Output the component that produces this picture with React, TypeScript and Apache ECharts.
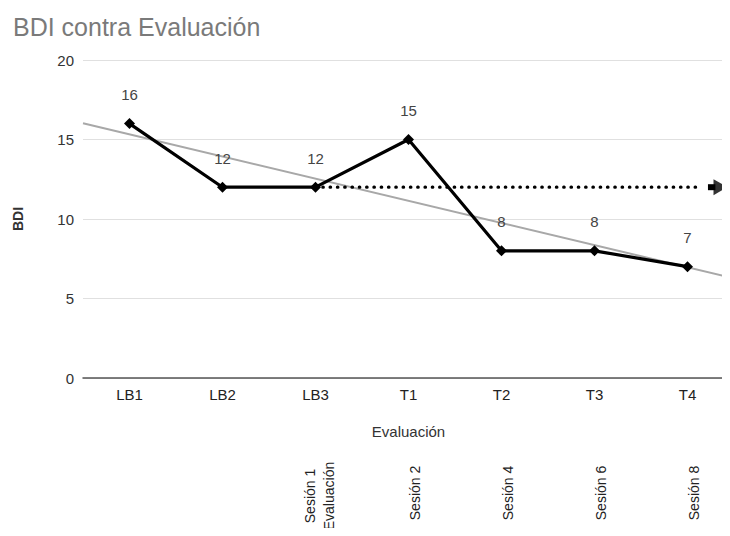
import React, { useEffect, useRef } from "react";
import * as echarts from "echarts";

const categories = ["LB1", "LB2", "LB3", "T1", "T2", "T3", "T4"];
const bdiValues = [16, 12, 12, 15, 8, 8, 7];
// session notes written under the chart (first line / second line for LB3)
const sessionLabels = ["", "", "", "Sesión 2", "Sesión 4", "Sesión 6", "Sesión 8"];
const sessionLine1 = ["", "", "Sesión 1", "", "", "", ""];
const sessionLine2 = ["", "", "Evaluación", "", "", "", ""];
const yTicks = { min: 0, max: 20, interval: 5 };
// reference level (dotted line from LB3 onward) and arrow annotation, in category-position units
const referenceLevel = 12;
const dottedStart = 3;
const dottedEnd = 7.16;
const arrowShaft = [7.22, 7.3];
const arrowHead = 7.355;

// least-squares trend line from the data
function trend() {
  const n = bdiValues.length;
  const xs = bdiValues.map((_, i) => i + 1);
  const mx = xs.reduce((a, b) => a + b, 0) / n;
  const my = bdiValues.reduce((a, b) => a + b, 0) / n;
  let sxy = 0, sxx = 0;
  xs.forEach((x, i) => { sxy += (x - mx) * (bdiValues[i] - my); sxx += (x - mx) ** 2; });
  const slope = sxy / sxx;
  const f = (x: number) => my + slope * (x - mx);
  return [[0.5, f(0.5)], [7.5, f(7.5)]];
}

export default function App() {
  const ref = useRef<HTMLDivElement>(null);
  useEffect(() => {
    if (!ref.current) return;
    const chart = echarts.init(ref.current, null, { renderer: "svg" });
    const font = "'Liberation Sans', Arial, sans-serif";
    const noteAxis = (gridIndex: number, data: string[], margin: number) => ({
      type: "category",
      gridIndex,
      data,
      axisLine: { show: false },
      axisTick: { show: false },
      splitLine: { show: false },
      axisLabel: {
        rotate: 90,
        interval: 0,
        align: "center",
        verticalAlign: "middle",
        fontSize: 14,
        color: "#222",
        margin,
        overflow: "none",
        fontFamily: font,
      },
    });
    const hiddenY = (gridIndex: number) => ({ type: "value", gridIndex, min: 0, max: 20, show: false });
    const g = (left: number) => ({ left, width: 651, top: 60, height: 318, outerBoundsMode: "none", containLabel: false });
    chart.setOption({
      animation: false,
      textStyle: { fontFamily: font },
      title: {
        text: "BDI contra Evaluación",
        left: 8,
        top: 9,
        textStyle: { fontSize: 25, color: "#7a7a7a", fontWeight: "normal", fontFamily: font },
      },
      grid: [g(83), g(89), g(77), g(96)],
      xAxis: [
        {
          type: "category",
          gridIndex: 0,
          data: categories,
          boundaryGap: true,
          name: "Evaluación",
          nameLocation: "middle",
          nameGap: 46,
          nameTextStyle: { fontSize: 15, color: "#333", fontFamily: font },
          axisLine: { lineStyle: { color: "#555", width: 1.5 } },
          axisTick: { show: false },
          axisLabel: { fontSize: 15, color: "#222", margin: 9, fontFamily: font },
        },
        {
          type: "value",
          gridIndex: 0,
          min: 0.5,
          max: 7.5,
          show: false,
        },
        noteAxis(1, sessionLabels, 115),
        noteAxis(2, sessionLine1, 118),
        noteAxis(3, sessionLine2, 118),
      ],
      yAxis: [
        {
          type: "value",
          gridIndex: 0,
          min: yTicks.min,
          max: yTicks.max,
          interval: yTicks.interval,
          name: "BDI",
          nameLocation: "middle",
          nameGap: 58,
          nameTextStyle: { fontSize: 14, color: "#333", fontWeight: "bold", fontFamily: font },
          axisLine: { show: false },
          axisTick: { show: false },
          axisLabel: { fontSize: 15, color: "#333", margin: 9, fontFamily: font },
          splitLine: { lineStyle: { color: "#e0e0e0", width: 1 } },
        },
        hiddenY(1),
        hiddenY(2),
        hiddenY(3),
      ],
      series: [
        {
          type: "line",
          xAxisIndex: 1,
          yAxisIndex: 0,
          data: trend(),
          symbol: "none",
          lineStyle: { color: "#a8a8a8", width: 2 },
          z: 1,
          silent: true,
        },
        {
          type: "line",
          xAxisIndex: 1,
          yAxisIndex: 0,
          data: [[dottedStart, referenceLevel], [dottedEnd, referenceLevel]],
          symbol: "none",
          lineStyle: { color: "#000", width: 3.2, type: [0.5, 6.8], cap: "round" },
          z: 2,
          silent: true,
        },
        {
          type: "line",
          xAxisIndex: 1,
          yAxisIndex: 0,
          data: [[arrowShaft[0], referenceLevel], [arrowShaft[1], referenceLevel]],
          symbol: "none",
          lineStyle: { color: "#000", width: 6 },
          z: 2,
          silent: true,
          clip: false,
        },
        {
          type: "scatter",
          xAxisIndex: 1,
          yAxisIndex: 0,
          data: [[arrowHead, referenceLevel]],
          symbol: "triangle",
          symbolRotate: -90,
          symbolSize: [16, 14],
          itemStyle: { color: "#000" },
          z: 2,
          silent: true,
          clip: false,
        },
        {
          type: "line",
          xAxisIndex: 0,
          yAxisIndex: 0,
          data: bdiValues,
          symbol: "diamond",
          symbolSize: 11,
          lineStyle: { color: "#000", width: 3.2 },
          itemStyle: { color: "#000" },
          label: {
            show: true,
            position: "top",
            distance: 16,
            fontSize: 15,
            color: "#444",
            fontFamily: font,
          },
          z: 3,
        },
      ],
    });
    return () => chart.dispose();
  }, []);
  return <div ref={ref} style={{ width: 730, height: 536, margin: -8 }} />;
}
